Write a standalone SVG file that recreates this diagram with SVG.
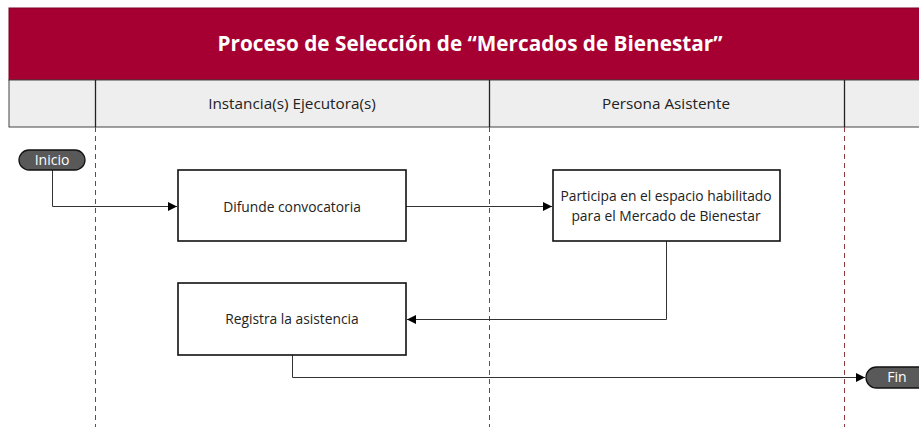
<svg xmlns="http://www.w3.org/2000/svg" width="919" height="427" viewBox="0 0 919 427">
<style>
.t{font-family:"Open Sans","Liberation Sans",sans-serif;fill:#222;}
.box{fill:#fff;stroke:#111;stroke-width:1.6;}
.pill{fill:#595959;stroke:#111;stroke-width:1.3;}
.pt{font-family:"Open Sans","Liberation Sans",sans-serif;fill:#fff;font-size:14px;}
.lane{stroke:#8b3a3a;stroke-width:1;stroke-dasharray:5,4;fill:none;}
.conn{stroke:#333;stroke-width:1;fill:none;}
</style>
<defs>
<marker id="ah" markerWidth="10" markerHeight="10" refX="9" refY="5" orient="auto" markerUnits="userSpaceOnUse">
<path d="M0,0.5 L9,5 L0,9.5 Z" fill="#000"/>
</marker>
</defs>
<g id="header">
<rect x="9" y="8" width="920" height="72" fill="#a50031" stroke="#7a0024" stroke-width="1"/>
<text x="470" y="51" text-anchor="middle" font-family="'Open Sans','Liberation Sans',sans-serif" font-weight="bold" font-size="21" fill="#fff" textLength="505" lengthAdjust="spacingAndGlyphs">Proceso de Selección de “Mercados de Bienestar”</text>
<rect x="9" y="80" width="920" height="47" fill="#eeeeee" stroke="#444" stroke-width="1"/>
<line x1="95.5" y1="80" x2="95.5" y2="127" stroke="#222" stroke-width="1.3"/>
<line x1="489.5" y1="80" x2="489.5" y2="127" stroke="#222" stroke-width="1.3"/>
<line x1="844.5" y1="80" x2="844.5" y2="127" stroke="#222" stroke-width="1.3"/>
<text class="t" x="292" y="109" text-anchor="middle" font-size="15.3">Instancia(s) Ejecutora(s)</text>
<text class="t" x="666" y="109" text-anchor="middle" font-size="15.3">Persona Asistente</text>
</g>
<g id="lanes">
<line class="lane" x1="95.5" y1="127" x2="95.5" y2="427"/>
<line class="lane" x1="489.5" y1="127" x2="489.5" y2="427"/>
<line class="lane" x1="844.5" y1="127" x2="844.5" y2="427"/>
</g>
<g id="connectors">
<path class="conn" d="M52.5,170 V206.5 H177" marker-end="url(#ah)"/>
<path class="conn" d="M406,206.5 H552" marker-end="url(#ah)"/>
<path class="conn" d="M666.5,241 V319.5 H407" marker-end="url(#ah)"/>
<path class="conn" d="M292.5,355 V377.5 H865" marker-end="url(#ah)"/>
</g>
<g id="inicio">
<rect class="pill" x="19" y="150" width="66" height="20" rx="10"/>
<text class="pt" x="52" y="165" text-anchor="middle">Inicio</text>
</g>
<g id="difunde">
<rect class="box" x="178" y="170" width="228" height="71"/>
<text class="t" x="292" y="212" text-anchor="middle" font-size="13.8">Difunde convocatoria</text>
</g>
<g id="participa">
<rect class="box" x="553" y="170" width="227" height="71"/>
<text class="t" x="666" y="201" text-anchor="middle" font-size="13.8">Participa en el espacio habilitado</text>
<text class="t" x="666" y="221" text-anchor="middle" font-size="13.8">para el Mercado de Bienestar</text>
</g>
<g id="registra">
<rect class="box" x="178" y="283" width="228" height="72"/>
<text class="t" x="292" y="324" text-anchor="middle" font-size="13.8">Registra la asistencia</text>
</g>
<g id="fin">
<rect class="pill" x="866" y="367" width="80" height="21" rx="10.5"/>
<text class="pt" x="897" y="382" text-anchor="middle">Fin</text>
</g>
</svg>
